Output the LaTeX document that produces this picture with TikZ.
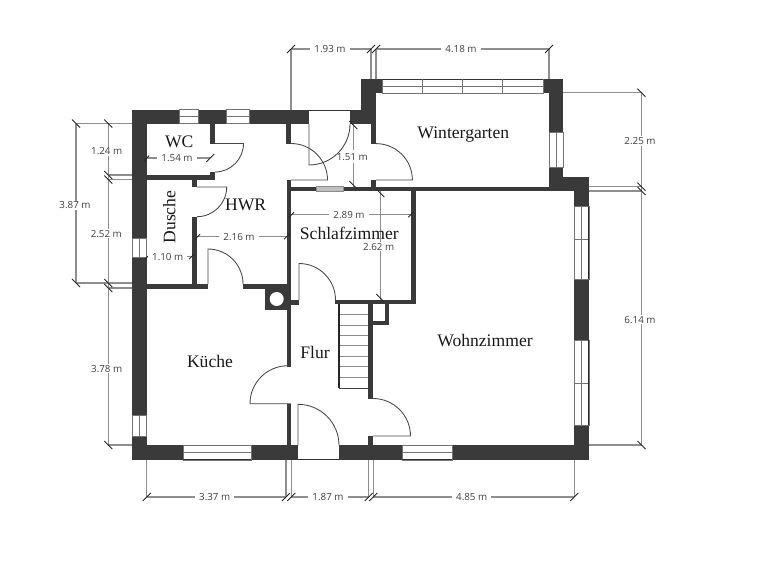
\documentclass[tikz,border=0pt]{standalone}
\usepackage{fontspec}
\setmainfont{Liberation Serif}
\newfontfamily\dimfont{Open Sans}
\definecolor{wallc}{HTML}{3A3A3A}
\definecolor{dimc}{HTML}{8E8E8E}
\definecolor{dimtxt}{HTML}{404040}
\tikzset{
  wallst/.style={fill=wallc,draw=none},
  doorst/.style={draw=black!72,line width=0.85pt},
  winst/.style={fill=white,draw=black!55,line width=0.8pt},
  winmid/.style={draw=black!55,line width=0.8pt},
  dimst/.style={draw=dimc,line width=1.05pt},
  tickst/.style={draw=black!85,line width=0.9pt},
  dimlabel/.style={font=\dimfont\fontsize{9.8}{11}\selectfont,text=dimtxt,fill=white,inner xsep=4pt,inner ysep=1pt},
  roomlabel/.style={font=\fontsize{17.6}{20}\selectfont,text=black!90,yshift=-1pt}
}
\newcommand\wallbox[4]{\fill[wallst] (#1,#2) rectangle (#3,#4);}
\newcommand\winh[4]{\draw[winst] (#1,#2) rectangle (#3,#4); \draw[winmid] (#1,{(#2+#4)/2}) -- (#3,{(#2+#4)/2});}
\newcommand\winv[4]{\draw[winst] (#1,#2) rectangle (#3,#4); \draw[winmid] ({(#1+#3)/2},#2) -- ({(#1+#3)/2},#4);}
\newcommand\slashtick[2]{\draw[tickst] (#1,#2)+(-4,4) -- +(4,-4);}
\newcommand\backtick[2]{\draw[tickst] (#1,#2)+(-4,-4) -- +(4,4);}
\newcommand\smalltick[2]{\draw[tickst] (#1,#2)+(-2.5,2.5) -- +(2.5,-2.5);}
\begin{document}
\begin{tikzpicture}[x=1pt,y=-1pt]
\useasboundingbox (0,0) rectangle (768,560);
\fill[white] (0,0) rectangle (768,560);
% dimension lines first
% top
\draw[dimst] (291,49) -- (371,49) (376,49) -- (549,49);
\draw[dimst] (291,49) -- (291,110) (371,49) -- (371,79) (376,49) -- (376,79) (549,49) -- (549,79);
\slashtick{291}{49}\slashtick{371}{49}\slashtick{376}{49}\slashtick{549}{49}
\node[dimlabel] (d193) at (330,49) {1.93 m};
\node[dimlabel] (d418) at (461,49) {4.18 m};
% right
\draw[dimst] (641.5,92.7) -- (641.5,445);
\draw[dimst] (563,92.7) -- (641.5,92.7) (589,186.7) -- (641.5,186.7) (589,191) -- (641.5,191) (589,445) -- (641.5,445);
\backtick{641.5}{92.7}\backtick{641.5}{186.7}\backtick{641.5}{191}\backtick{641.5}{445}
\node[dimlabel] (d225) at (640,141) {2.25 m};
\node[dimlabel] (d614) at (640,319.7) {6.14 m};
% left
\draw[dimst] (76,123.5) -- (76,283) (108.3,123.5) -- (108.3,445);
\draw[dimst] (76,123.5) -- (132,123.5) (108.3,175) -- (132,175) (108.3,179.5) -- (132,179.5) (76,283) -- (132,283) (108.3,288) -- (132,288) (108.3,445) -- (132,445);
\backtick{76}{123.5}\backtick{108.3}{123.5}\backtick{108.3}{175}\backtick{108.3}{179.5}\backtick{76}{283}\backtick{108.3}{283}\backtick{108.3}{288}\backtick{108.3}{445}
\node[dimlabel] (d124) at (106.7,151.3) {1.24 m};
\node[dimlabel] (d387) at (75,205.3) {3.87 m};
\node[dimlabel] (d252) at (106.3,233.7) {2.52 m};
\node[dimlabel] (d378) at (106.7,368.7) {3.78 m};
% bottom
\draw[dimst] (146.7,497) -- (286,497) (291.3,497) -- (368.7,497) (373.3,497) -- (574.3,497);
\draw[dimst] (146.7,460) -- (146.7,497) (286,460) -- (286,497) (291.3,460) -- (291.3,497) (368.7,460) -- (368.7,497) (373.3,460) -- (373.3,497) (574.3,460) -- (574.3,497);
\slashtick{146.7}{497}\slashtick{286}{497}\slashtick{291.3}{497}\slashtick{368.7}{497}\slashtick{373.3}{497}\slashtick{574.3}{497}
\node[dimlabel] (d337) at (214.7,497) {3.37 m};
\node[dimlabel] (d187) at (328,497) {1.87 m};
\node[dimlabel] (d485) at (471.7,497) {4.85 m};
% outer walls
\wallbox{132}{109.5}{146.7}{460}
\wallbox{132}{109.5}{309}{123.7}
\wallbox{350}{109.5}{376}{123.7}
\wallbox{361.3}{79}{376}{124}
\wallbox{361.3}{79}{382}{93}
\wallbox{543}{79}{563}{92.7}
\wallbox{549}{79}{563}{190.7}
\wallbox{549}{176.7}{589}{190.7}
\wallbox{574}{176.7}{589}{460}
\wallbox{132}{445.3}{298}{460}
\wallbox{339}{445.3}{589}{460}
% door opening outer lines
\draw[draw=black!80,line width=0.8pt] (309,109.9) -- (350,109.9);
\draw[draw=black!80,line width=1.5pt] (298,459.3) -- (339,459.3);
% inner walls
\wallbox{210.3}{124}{215.3}{143.5}
\wallbox{210.3}{171.7}{215.3}{179.7}
\wallbox{146.7}{174.7}{215.3}{179.7}
\wallbox{192}{179.7}{197.3}{187}
\wallbox{192}{217}{197.3}{285}
\wallbox{146.7}{284}{208}{289.3}
\wallbox{243}{284}{291}{289.3}
\wallbox{265}{283.5}{291}{310}
\wallbox{286}{124}{291}{143.7}
\wallbox{287}{180}{291}{366.7}
\wallbox{287}{403.7}{291}{446}
\wallbox{287}{186.7}{549.5}{191}
\wallbox{371.3}{124}{376}{143.7}
\wallbox{371.3}{180}{376}{187}
\wallbox{411.3}{186.7}{416.3}{304}
\wallbox{335.3}{300}{416.3}{304}
\wallbox{291}{299.5}{299}{304.5}
\wallbox{368.3}{304}{373}{398.7}
\wallbox{368.3}{436}{373}{446}
\wallbox{373}{321}{389.3}{325}
\wallbox{385}{304}{389.3}{325}
\fill[white] (276.7,299) circle (7);
% windows
\winh{179}{109.5}{198.7}{123.7}
\winh{226.7}{109.5}{249}{123.7}
\winv{132}{238}{146.7}{257.7}
\winv{132}{415}{146.7}{436.7}
\winh{183}{445.3}{251}{460}
\winh{402}{445.3}{452}{460}
\draw[black!80,line width=1.5pt] (183,459.3) -- (251,459.3) (402,459.3) -- (452,459.3);
\winv{549}{132.7}{563}{167.3}
\winh{382}{79}{543}{93}
\draw[black!80,line width=0.9pt] (382,79) -- (543,79);
\draw[winmid] (422.7,79) -- (422.7,93) (462.7,79) -- (462.7,93) (502.7,79) -- (502.7,93);
\winv{574}{206.7}{589}{279}
\draw[winmid] (574,239.3) -- (589,239.3);
\winv{574}{340}{589}{425.3}
\draw[winmid] (574,383.3) -- (589,383.3);
\draw[black!85,line width=1pt] (588.7,206.7) -- (588.7,279) (588.7,340) -- (588.7,425.3);
\draw[fill=black!25,draw=black!45,line width=0.5pt] (316.7,186.7) rectangle (343.7,191);
% doors
\draw[doorst] (215,143.5) -- (243.5,143.5) arc[start angle=0,end angle=90,radius=28.5];
\draw[doorst] (197,187) -- (226.7,187) arc[start angle=0,end angle=90,radius=29.7];
\draw[doorst] (208,284) -- (208,249) arc[start angle=-90,end angle=0,radius=35];
\draw[doorst] (291,180) -- (327.5,180) arc[start angle=0,end angle=-90,radius=36.5];
\draw[doorst] (309,124) -- (309,165) arc[start angle=90,end angle=0,radius=41];
\draw[doorst] (376,180) -- (412.4,180) arc[start angle=0,end angle=-90,radius=36.4];
\draw[doorst] (299,300) -- (299,263.5) arc[start angle=-90,end angle=0,radius=36.5];
\draw[doorst] (291,403.7) -- (250,403.7) arc[start angle=180,end angle=270,radius=38];
\draw[doorst] (298,445.3) -- (298,404.3) arc[start angle=-90,end angle=0,radius=41];
\draw[doorst] (373,436) -- (410.5,436) arc[start angle=0,end angle=-90,radius=37.5];
% stairs
\draw[draw=black!45,line width=0.9pt] (339,314.3) -- (368.3,314.3) (339,325) -- (368.3,325) (339,335.3) -- (368.3,335.3) (339,345.7) -- (368.3,345.7) (339,356) -- (368.3,356) (339,366.7) -- (368.3,366.7) (339,377.3) -- (368.3,377.3);
\draw[draw=black!75,line width=1pt] (339,388) -- (368.3,388);
\draw[draw=black!85,line width=1.5pt] (339,304) -- (339,388);
% interior dims
\draw[dimst] (146.7,158) -- (210.3,158);
\smalltick{146.7}{158}\slashtick{210.3}{158}
\node[dimlabel] (d154) at (177,158) {1.54 m};
\draw[dimst] (146.7,256.7) -- (192,256.7);
\smalltick{147.5}{256.7}\smalltick{191.5}{256.7}
\node[dimlabel] (d110) at (167.7,256.7) {1.10 m};
\draw[dimst] (197,236.7) -- (287,236.7);
\smalltick{197.5}{236.7}\smalltick{286.5}{236.7}
\node[dimlabel] (d216) at (239,236.7) {2.16 m};
\draw[dimst] (291,214.7) -- (411.3,214.7);
\smalltick{291.5}{214.7}\smalltick{410.8}{214.7}
\node[dimlabel] (d289) at (349,214.7) {2.89 m};
\draw[dimst] (380.3,191) -- (380.3,300);
\backtick{380.3}{193}\backtick{380.3}{298}
\node[dimlabel] (d262) at (378.7,246.7) {2.62 m};
\draw[dimst] (353.3,123.7) -- (353.3,150) (353.3,163) -- (353.3,186.7);
\backtick{353.3}{125}\backtick{353.3}{185}
\node[dimlabel,fill=none] (d151) at (352.3,156.7) {1.51 m};
% rooms
\node[roomlabel] (wc) at (179.3,140.7) {WC};
\node[roomlabel] (hwr) at (245.7,203.7) {HWR};
\node[roomlabel,rotate=90] (dusche) at (169.3,216) {Dusche};
\node[roomlabel] (winter) at (463.3,134) {Wintergarten};
\node[roomlabel] (schlaf) at (349.3,232.3) {Schlafzimmer};
\node[roomlabel] (kueche) at (210,360) {Küche};
\node[roomlabel] (flur) at (315,351.7) {Flur};
\node[roomlabel] (wohn) at (485,340) {Wohnzimmer};
\end{tikzpicture}
\end{document}
